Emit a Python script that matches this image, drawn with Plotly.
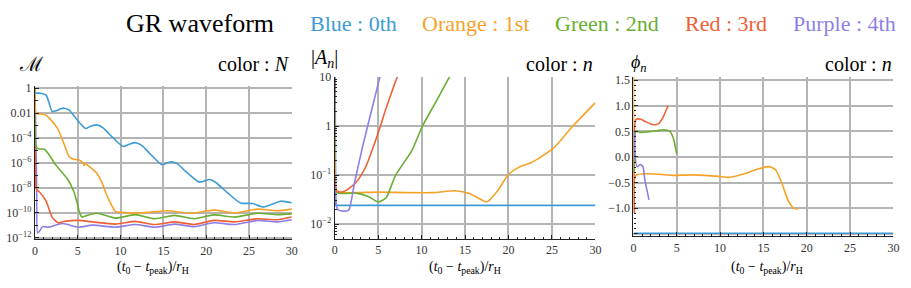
import plotly.graph_objects as go

W, H = 911, 288

# ---------------- colours ----------------
C_BLUE = "#3d9bd6"
C_ORANGE = "#f6a229"
C_GREEN = "#6aae33"
C_RED = "#ef6036"
C_PURPLE = "#8e7fe4"

# ---------------- panel 1 : mismatch M ----------------
m_blue_x = [0.0, 0.1, 0.8, 1.3, 1.7, 2.0, 2.5, 3.0, 3.4, 4.0, 5.0, 5.9, 6.5, 7.25, 8.0, 9.0, 10.3, 11.0, 11.7,
            12.5, 13.5, 14.8, 15.9, 16.6, 17.5, 19.2, 20.4, 21.2, 22.5, 24.0, 25.4, 26.7, 28.7, 30.0]
m_blue_y = [0.45, 0.42, 0.38, 0.28, 0.05, 0.0138, 0.0158, 0.0224, 0.025, 0.0178, 2.5e-3, 5.8e-4, 8.9e-4, 1.15e-3,
            6.3e-4, 1.26e-4, 2.1e-5, 3.2e-5, 4.3e-5, 2.5e-5, 5e-6, 7.4e-7, 1.26e-6, 8.9e-7, 2.5e-7, 2.95e-8,
            4.7e-8, 2.5e-8, 4e-9, 6.3e-10, 5.6e-10, 3e-10, 8.7e-10, 6.5e-10]

m_orange_x = [0.0, 0.08, 0.3, 1.1, 1.8, 2.6, 3.3, 4.0, 4.5, 5.1, 5.6, 5.75, 5.85, 6.5, 7.2, 7.8, 8.4, 8.8, 9.4,
              10.1, 12.5, 15.5, 18.2, 20.9, 23.3, 26.0, 28.3, 30.0]
m_orange_y = [1.0, 0.0126, 9e-3, 8e-3, 3.2e-3, 6.5e-4, 5e-5, 3.2e-6, 2e-6, 1.8e-6, 1e-6, 6.3e-7, 8.9e-7, 4.2e-7,
              1.6e-7, 2.95e-8, 2.5e-9, 6.5e-10, 1.3e-10, 1.1e-10, 1e-10, 1.5e-10, 9.3e-11, 1.66e-10, 1e-10,
              2e-10, 1.5e-10, 2e-10]

m_green_x = [0.0, 0.08, 0.3, 1.1, 1.6, 2.4, 3.8, 4.55, 5.0, 5.2, 5.5, 6.1, 7.25, 9.4, 11.7, 14.0, 16.3, 18.6,
             20.9, 23.3, 26.0, 28.3, 30.0]
m_green_y = [1.0, 3.2e-5, 1.4e-5, 1.26e-5, 5e-6, 7.4e-7, 5.2e-8, 5e-9, 4e-10, 1.1e-10, 4.6e-11, 6.3e-11, 9.3e-11,
             3.8e-11, 7.2e-11, 3.4e-11, 6.3e-11, 3.4e-11, 6.9e-11, 4.6e-11, 9.3e-11, 7.2e-11, 8.3e-11]

m_red_x = [0.0, 0.08, 0.2, 0.5, 1.3, 2.0, 2.7, 3.6, 5.1, 6.7, 9.4, 11.7, 14.0, 16.3, 18.6, 20.9, 23.3, 26.0,
           28.3, 30.0]
m_red_y = [1.0, 3.2e-8, 6.8e-9, 5e-9, 8.7e-10, 4.6e-11, 1.6e-11, 2.2e-11, 2.5e-11, 1.9e-11, 1.26e-11, 2.1e-11,
           1.17e-11, 1.9e-11, 1.17e-11, 2.5e-11, 1.9e-11, 3.4e-11, 2.8e-11, 4.6e-11]

m_purple_x = [0.0, 0.2, 0.3, 0.5, 0.9, 1.5, 3.2, 5.1, 6.7, 9.4, 11.7, 14.0, 16.3, 18.6, 20.9, 23.3, 26.0, 28.3, 30.0]
m_purple_y = [1.0, 1e-8, 2.5e-12, 3.2e-12, 7.9e-12, 7.1e-12, 1.4e-11, 7.1e-12, 1.05e-11, 7.1e-12, 1.17e-11,
              7.1e-12, 1.26e-11, 7.9e-12, 1.6e-11, 1.17e-11, 2.5e-11, 1.9e-11, 2.8e-11]

# ---------------- panel 2 : |A_n| ----------------
a_blue_x = [0.04, 0.12, 30.0]
a_blue_y = [20.0, 0.024, 0.024]

a_orange_x = [0.0, 0.15, 0.3, 5.0, 11.2, 13.9, 15.5, 16.5, 17.5, 18.8, 19.9, 21.2, 22.6, 24.1, 25.3, 27.2, 30.0]
a_orange_y = [20.0, 0.05, 0.0447, 0.0447, 0.0437, 0.0479, 0.042, 0.034, 0.0282, 0.049, 0.098, 0.145, 0.178,
              0.257, 0.37, 0.91, 3.0]

a_green_x = [0.02, 0.2, 2.5, 4.0, 5.0, 5.9, 7.0, 8.9, 10.1, 11.6, 13.2, 13.5]
a_green_y = [20.0, 0.0447, 0.0427, 0.0355, 0.0282, 0.034, 0.098, 0.32, 1.0, 3.0, 10.0, 12.0]

a_red_x = [0.05, 0.25, 1.0, 1.7, 2.5, 3.6, 5.0, 5.9, 7.2, 7.4]
a_red_y = [20.0, 0.047, 0.0457, 0.054, 0.072, 0.151, 0.72, 2.24, 10.0, 12.0]

a_purple_x = [0.06, 0.38, 1.5, 1.7, 2.3, 3.2, 4.2, 5.2, 5.3]
a_purple_y = [20.0, 0.0195, 0.0186, 0.0204, 0.072, 0.37, 1.95, 10.0, 12.0]

# ---------------- panel 3 : phi_n ----------------
p_blue_x = [0.0, 30.0]
p_blue_y = [-1.49, -1.49]

p_orange_x = [0.02, 0.08, 0.3, 4.6, 6.9, 9.9, 11.0, 12.6, 14.1, 15.6, 16.4, 17.1, 17.9, 18.5, 19.0]
p_orange_y = [1.6, -1.1, -0.36, -0.36, -0.35, -0.38, -0.40, -0.34, -0.25, -0.19, -0.25, -0.5, -0.87, -1.0, -1.02]

p_red_x = [0.12, 0.3, 0.8, 1.5, 2.3, 2.9, 3.4, 4.0]
p_red_y = [-1.1, 0.73, 0.74, 0.68, 0.63, 0.65, 0.77, 1.0]

p_green_x = [0.1, 0.3, 0.8, 2.7, 3.4, 4.2, 4.6, 5.0]
p_green_y = [-0.3, 0.5, 0.48, 0.51, 0.53, 0.5, 0.37, 0.06]

p_purple_x = [0.1, 0.4, 0.8, 1.1, 1.3, 1.8]
p_purple_y = [0.5, -0.19, -0.15, -0.19, -0.43, -0.84]

# ---------------- tick labels ----------------
m_tickvals = [1, 1e-2, 1e-4, 1e-6, 1e-8, 1e-10, 1e-12]
m_ticktext = ["1", "0.01", "10<sup>−4</sup>", "10<sup>−6</sup>", "10<sup>−8</sup>", "10<sup>−10</sup>",
              "10<sup>−12</sup>"]
m_minorvals = [1e-1, 1e-3, 1e-5, 1e-7, 1e-9, 1e-11]
a_tickvals = [10, 1, 0.1, 0.01]
a_ticktext = ["10", "1", "10<sup>−1</sup>", "10<sup>−2</sup>"]
p_tickvals = [1.5, 1.0, 0.5, 0.0, -0.5, -1.0, -1.5]
p_ticktext = ["1.5", "1.0", "0.5", "0.0", "−0.5", "−1.0", ""]
x_tickvals = [0, 5, 10, 15, 20, 25, 30]

SERIF = "Liberation Serif, Times New Roman, serif"
GRID = "#b4b4b4"

fig = go.Figure()

def add(xs, ys, color, ax, shape="spline"):
    line = dict(color=color, width=1.6, shape=shape)
    if shape == "spline":
        line["smoothing"] = 0.6
    fig.add_trace(go.Scatter(x=xs, y=ys, mode="lines", line=line,
                             xaxis="x" + ax, yaxis="y" + ax, showlegend=False, hoverinfo="skip", cliponaxis=True))

for xs, ys, c in [(m_purple_x, m_purple_y, C_PURPLE), (m_red_x, m_red_y, C_RED), (m_green_x, m_green_y, C_GREEN),
                  (m_orange_x, m_orange_y, C_ORANGE), (m_blue_x, m_blue_y, C_BLUE)]:
    add(xs, ys, c, "")
add(a_blue_x, a_blue_y, C_BLUE, "2", "linear")
for xs, ys, c in [(a_orange_x, a_orange_y, C_ORANGE), (a_green_x, a_green_y, C_GREEN),
                  (a_red_x, a_red_y, C_RED), (a_purple_x, a_purple_y, C_PURPLE)]:
    add(xs, ys, c, "2")
add(p_blue_x, p_blue_y, C_BLUE, "3", "linear")
for xs, ys, c in [(p_orange_x, p_orange_y, C_ORANGE), (p_red_x, p_red_y, C_RED),
                  (p_green_x, p_green_y, C_GREEN), (p_purple_x, p_purple_y, C_PURPLE)]:
    add(xs, ys, c, "3")

def px(x):
    return x / W

def py(y):
    return (H - y) / H

tickfont = dict(family=SERIF, size=12, color="#333")

def xax(dom, anchor):
    return dict(domain=dom, anchor=anchor, range=[0, 30], tickvals=x_tickvals, ticks="inside", ticklen=4,
                tickcolor="#222", showline=True, linecolor="#222", linewidth=1.2, showgrid=True,
                gridcolor=GRID, gridwidth=1.5, zeroline=False, tickfont=tickfont,
                minor=dict(dtick=1, ticks="inside", ticklen=2, tickcolor="#222", showgrid=False))

layout = dict(width=W, height=H, margin=dict(l=0, r=0, t=0, b=0), paper_bgcolor="white", plot_bgcolor="white",
              showlegend=False)
layout["xaxis"] = xax([px(32.3), px(291.7)], "y")
layout["xaxis2"] = xax([px(335.0), px(598.3)], "y2")
layout["xaxis3"] = xax([px(636.7), px(899.3)], "y3")

yax_common = dict(ticks="inside", ticklen=4, tickcolor="#222", showline=True, linecolor="#222", linewidth=1.2,
                  showgrid=True, gridcolor=GRID, gridwidth=1.5, zeroline=False, tickfont=tickfont)
layout["yaxis"] = dict(domain=[py(243.3), py(82.7)], anchor="x", type="log", range=[-12.12, 0.18],
                       tickvals=m_tickvals, ticktext=m_ticktext,
                       minor=dict(tickvals=m_minorvals, ticks="inside", ticklen=3, tickcolor="#222",
                                  showgrid=False), **yax_common)
layout["yaxis2"] = dict(domain=[py(242.7), py(73.3)], anchor="x2", type="log", range=[-2.30, 1.0],
                        tickvals=a_tickvals, ticktext=a_ticktext,
                        minor=dict(dtick="D1", ticks="inside", ticklen=2, tickcolor="#222", showgrid=False),
                        **yax_common)
layout["yaxis3"] = dict(domain=[py(240.0), py(73.3)], anchor="x3", range=[-1.548, 1.562],
                        tickvals=p_tickvals, ticktext=p_ticktext,
                        minor=dict(dtick=0.1, tick0=0, ticks="inside", ticklen=2, tickcolor="#222",
                                   showgrid=False), **yax_common)

ann = []
def text(x, y, s, size, color="black", xanchor="center"):
    ann.append(dict(x=px(x), y=py(y), xref="paper", yref="paper", text=s, showarrow=False, xanchor=xanchor,
                    yanchor="middle", font=dict(family=SERIF, size=size, color=color)))

# header
text(199, 17, "GR waveform", 26)
text(354, 17, "Blue : 0th", 22, C_BLUE)
text(478, 17, "Orange : 1st", 22, C_ORANGE)
text(610, 17, "Green : 2nd", 22, C_GREEN)
text(730, 17, "Red : 3rd", 22, C_RED)
text(850, 17, "Purple : 4th", 22, C_PURPLE)

# panel titles
text(14, 60, "ℳ", 20, xanchor="left")
text(292, 60, "color : <i>N</i>", 20, xanchor="right")
text(309, 54, "|<i>A<sub>n</sub></i>|", 20, xanchor="left")
text(598, 60, "color : <i>n</i>", 20, xanchor="right")
text(632, 59, "<i>ϕ<sub>n</sub></i>", 18, xanchor="left")
text(900, 60, "color : <i>n</i>", 20, xanchor="right")

xlabel = "(<i>t</i><sub>0</sub> − <i>t</i><sub>peak</sub>)/<i>r</i><sub>H</sub>"
text(151, 273, xlabel, 14)
text(467, 273, xlabel, 14)
text(772, 273, xlabel, 14)

layout["annotations"] = ann
fig.update_layout(**layout)
fig.write_html("out.html")
